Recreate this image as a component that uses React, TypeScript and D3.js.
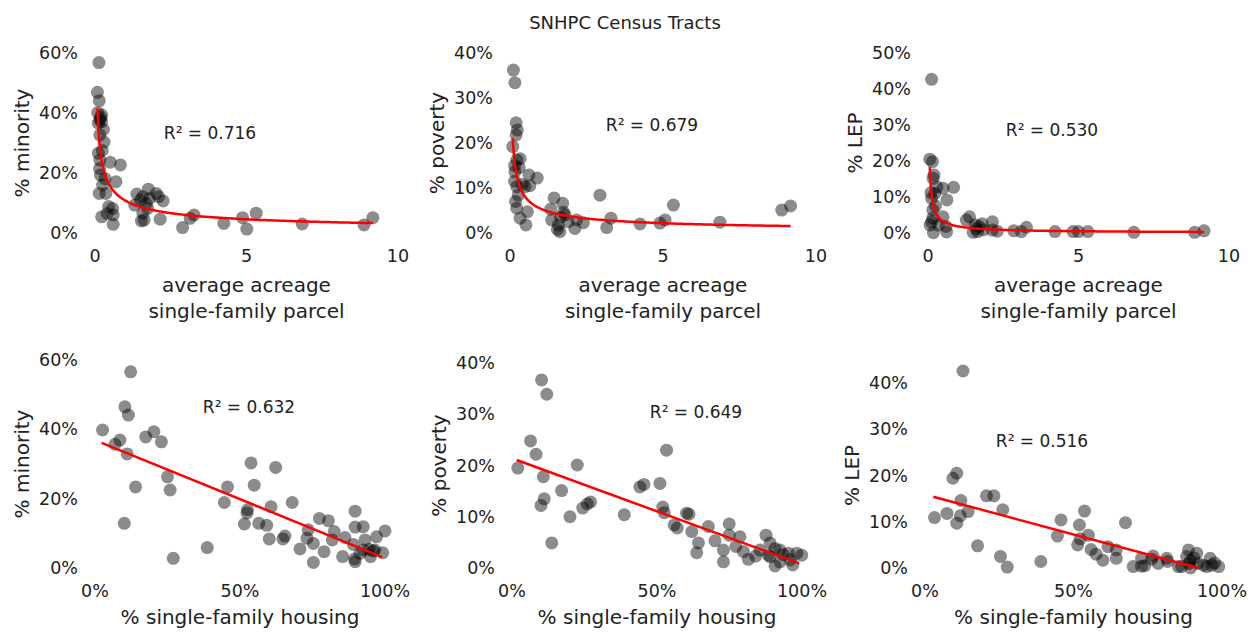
import React from "react";
import * as d3 from "d3";

// ---------- DATA ----------
const chartTitle = "SNHPC Census Tracts";

// Top row: average acreage of single-family parcel
const acreMinorityX = [0.13,0.08,0.14,0.09,0.22,0.16,0.11,0.22,0.19,0.16,0.30,0.11,0.24,0.16,0.50,0.84,0.18,0.33,0.69,0.14,0.36,0.25,0.45,0.58,0.22,0.60,0.60,0.40,1.38,1.58,1.76,2.02,2.10,2.25,1.31,1.69,1.74,1.58,1.53,1.62,2.15,1.50,1.80,2.89,3.14,3.27,4.25,4.87,5.01,5.32,6.84,8.88,9.17,0.28,0.15];
const acreMinorityY = [56.8,46.9,44.1,40.1,39.3,37.7,36.6,37.1,38.5,32.7,30.3,26.6,27.5,24.3,23.6,22.7,19.3,18.1,17.1,13.2,13.2,16.0,8.8,8.2,5.4,6.0,2.9,6.5,13.0,12.1,14.6,13.2,12.1,10.7,9.3,9.9,8.2,6.6,4.0,4.3,4.6,11.0,11.5,1.8,4.9,6.0,3.2,5.1,1.3,6.6,3.0,2.7,5.1,34.5,21.5];

const acrePovertyX = [0.11,0.16,0.20,0.24,0.20,0.09,0.22,0.33,0.15,0.30,0.16,0.62,0.89,0.15,0.22,0.49,0.65,0.40,0.27,0.22,0.57,0.33,0.52,0.18,1.44,1.72,1.33,1.80,1.75,1.36,1.58,1.63,2.18,2.12,2.40,1.55,1.90,2.94,3.16,3.30,4.25,4.90,5.07,5.34,6.86,8.88,9.17,1.65];
const acrePovertyY = [36.2,33.4,24.5,22.9,21.8,19.2,16.2,16.5,15.0,14.5,13.6,12.9,12.2,11.5,10.3,10.3,10.5,10.8,8.4,5.5,4.7,3.3,1.8,7.0,7.8,6.6,5.3,4.0,4.6,2.9,1.8,0.3,2.9,1.0,2.3,0.8,2.5,8.4,1.2,3.3,2.0,2.2,2.9,6.2,2.4,5.1,6.0,3.5];

const acreLepX = [0.12,0.06,0.15,0.20,0.17,0.10,0.23,0.50,0.85,0.63,0.12,0.16,0.50,0.16,0.12,0.07,0.35,0.60,0.18,0.62,0.25,0.30,1.27,1.38,1.57,1.70,1.65,1.50,1.85,2.14,2.14,2.30,1.60,2.85,3.10,3.27,4.22,4.82,5.00,5.31,6.84,8.86,9.17,1.80];
const acreLepY = [42.7,20.5,19.8,16.1,15.2,11.2,11.0,12.4,12.7,9.2,9.6,6.4,4.5,4.2,3.1,2.2,2.2,1.8,0.1,0.3,7.5,12.8,3.6,4.5,2.2,1.8,0.4,0.2,0.9,3.1,0.8,0.5,1.2,0.6,0.4,1.6,0.4,0.4,0.4,0.4,0.2,0.2,0.6,2.6];

// Bottom row: % single-family housing
const sfhMinorityX = [12.3,10.3,11.5,2.6,20.3,17.5,22.9,8.6,6.9,11.1,25,14,25.9,10.1,27,38.7,44.6,45.7,53.8,54.9,62.3,52.4,52.6,51.5,56.5,59.2,60.7,60.1,64.8,65.5,68,70.7,73.1,73.5,75.3,75.3,77.4,80.5,79,82.5,81.8,85.4,86.2,89.1,89.7,89.7,92.5,89.7,89.5,92.5,93.1,95.9,95,97.1,99.2,100,91.4,94.5,96.5];
const sfhMinorityY = [56.6,46.5,44.1,39.8,39.3,37.8,36.4,36.9,35.7,32.9,26.3,23.4,22.5,12.9,2.8,5.9,18.9,23.4,30.3,23.9,29,15.9,16.8,12.7,12.9,12.3,17.7,8.4,8.4,9.2,18.9,5.5,8.6,11,7.1,1.6,14.3,13.6,4.7,10.5,8.1,3.3,8.8,6.8,16.4,11.8,11.9,1.8,2.6,5.2,8.1,4.9,3.3,9,4.4,10.7,4.2,5.4,5.2];

const sfhPovertyX = [10.2,12,6.4,8.3,2,22.5,10.8,17.1,11.1,10,13.7,20,24.4,26,27.1,38.7,44.1,45.5,51,53.3,52,52.5,55.9,57,60.2,61,62,64.3,63.7,67.7,70,72.9,72.9,74.9,74.9,78.6,77.2,79.8,81.5,87.6,89,85.5,88.4,90.7,92.4,92.4,95.3,95.9,96.8,98.2,99.9,90.7,89,84,93.5];
const sfhPovertyY = [36.7,33.9,24.8,22.2,19.5,20.1,17.8,15.1,13.5,12.2,4.9,10,11.7,12.5,12.9,10.4,15.8,16.3,16.5,23,11.9,10.8,8.4,7.8,10.7,10.5,7.1,4.9,3,8.1,5.3,3.5,1.2,8.6,6.4,6.1,4.2,3.2,1.7,6.4,4.9,3.5,2.5,0.4,1.2,3.5,2.9,1.6,0.6,2.9,2.5,3.8,2.2,2.3,2.6];

const sfhLepX = [12.8,9.4,10.7,3.2,7.4,10.7,12.1,11.9,14.5,20.7,23.2,26.2,17.7,25.4,27.7,39,44.6,45.8,52,53.7,51.4,52.2,55,55.9,57.6,59.9,61.6,64.4,64.4,67.5,70.1,72.9,74,72.9,76.3,76.8,78.5,81.4,81.7,85.3,86.4,88.1,88.7,88.9,89.4,91.5,89.4,91.9,93.8,94.9,96,96.6,98.9,97.5,90.5];
const sfhLepY = [42.6,19.4,20.5,10.9,11.8,9.7,14.6,11.3,12.2,15.6,15.6,12.6,4.8,2.5,0.2,1.4,6.9,10.4,9.3,12.3,5,6.3,7.1,4,3,1.7,4.6,3.9,2.1,9.8,0.3,0.4,0.5,2.1,1.9,2.6,1,2.1,1.4,0.3,0.3,2.5,3.9,1,1.6,3.2,0,1,0.6,0.3,2.1,0.6,0.3,1.1,2.2];

// Trendlines
const powerA = [10.8, 5.41, 1.84];
const powerB = [-0.534, -0.565, -0.818];
const powerRange = [[0.08, 9.17], [0.09, 9.17], [0.06, 9.17]];
const linIntercept = [36.9, 21.4, 15.9];
const linSlope = [-0.341, -0.207, -0.173];
const linRange = [[2.3, 99], [1.6, 99], [2.8, 92]];
const r2Labels = ["0.716", "0.679", "0.530", "0.632", "0.649", "0.516"];

const yTitles = ["% minority", "% poverty", "% LEP"];
const yMaxTop = [60, 40, 50];
const yMaxBottom = [60, 40, 40];
const yTickStep = [20, 10, 10];
const xTicksTop = [0, 5, 10];
const xTicksBottom = [0, 50, 100];
const xTitleTop = ["average acreage", "single-family parcel"];
const xTitleBottom = "% single-family housing";

// ---------- LAYOUT ----------
const FONT = "'DejaVu Sans', sans-serif";
const W = 1250, H = 633;

const topX = [[95, 398], [510, 816], [928, 1229]];
const botX = [[95, 385], [512, 802], [925, 1222]];
const topY = [233, 53];
const botYTop = [360, 363, 383];
const botY0 = 568;
const r2Pos = [[210, 133], [652, 125], [1052, 130], [249, 407], [696, 412], [1042, 441]];

type Panel = {
  xs: number[]; ys: number[];
  x: d3.ScaleLinear<number, number>; y: d3.ScaleLinear<number, number>;
  xTicks: number[]; xFmt: (v: number) => string; yTicks: number[];
  trend: [number, number][];
  yTitle: string; r2: string; r2p: number[]; row: number;
};

function buildPanels(): Panel[] {
  const tops = [[acreMinorityX, acreMinorityY], [acrePovertyX, acrePovertyY], [acreLepX, acreLepY]];
  const bots = [[sfhMinorityX, sfhMinorityY], [sfhPovertyX, sfhPovertyY], [sfhLepX, sfhLepY]];
  const panels: Panel[] = [];
  tops.forEach(([xs, ys], i) => {
    const x = d3.scaleLinear().domain([0, 10]).range(topX[i]);
    const y = d3.scaleLinear().domain([0, yMaxTop[i]]).range(topY);
    const [lo, hi] = powerRange[i];
    const trend: [number, number][] = d3.range(0, 301).map((k) => {
      const xv = lo * Math.pow(hi / lo, k / 300);
      return [xv, powerA[i] * Math.pow(xv, powerB[i])];
    });
    panels.push({ xs, ys, x, y, xTicks: xTicksTop, xFmt: (v) => String(v),
      yTicks: d3.range(0, yMaxTop[i] + 0.01, yTickStep[i]), trend,
      yTitle: yTitles[i], r2: r2Labels[i], r2p: r2Pos[i], row: 0 });
  });
  bots.forEach(([xs, ys], i) => {
    const x = d3.scaleLinear().domain([0, 100]).range(botX[i]);
    const y = d3.scaleLinear().domain([0, yMaxBottom[i]]).range([botY0, botYTop[i]]);
    const [lo, hi] = linRange[i];
    const trend: [number, number][] = [lo, hi].map((xv) => [xv, linIntercept[i] + linSlope[i] * xv]);
    panels.push({ xs, ys, x, y, xTicks: xTicksBottom, xFmt: (v) => v + "%",
      yTicks: d3.range(0, yMaxBottom[i] + 0.01, yTickStep[i]), trend,
      yTitle: yTitles[i], r2: r2Labels[i + 3], r2p: r2Pos[i + 3], row: 1 });
  });
  return panels;
}

export default function App() {
  const panels = buildPanels();
  return (
    <svg width={W} height={H} style={{ position: "absolute", left: 0, top: 0, background: "#fff" }}
      fontFamily={FONT}>
      <text x={625} y={22} textAnchor="middle" dominantBaseline="central" fontSize={18} fill="#222">{chartTitle}</text>
      {panels.map((p, pi) => {
        const line = d3.line<[number, number]>().x((d) => p.x(d[0])).y((d) => p.y(d[1]));
        const xr = p.x.range();
        const yr = p.y.range();
        const xMid = (xr[0] + xr[1]) / 2;
        const yMid = (yr[0] + yr[1]) / 2;
        const tickY = p.row === 0 ? 256 : 591;
        return (
          <g key={pi}>
            {p.yTicks.map((t) => (
              <text key={"y" + t} x={xr[0] - 17} y={p.y(t)} textAnchor="end" dominantBaseline="central" fontSize={17.5} fill="#222">{t + "%"}</text>
            ))}
            {p.xTicks.map((t) => (
              <text key={"x" + t} x={p.x(t)} y={tickY} textAnchor="middle" dominantBaseline="central" fontSize={17.5} fill="#222">{p.xFmt(t)}</text>
            ))}
            <text transform={`translate(${xr[0] - 73},${yMid}) rotate(-90)`} textAnchor="middle" dominantBaseline="central" fontSize={20} fill="#222">{p.yTitle}</text>
            {p.row === 0 ? (
              <g>
                <text x={xMid} y={285} textAnchor="middle" dominantBaseline="central" fontSize={20} fill="#222">{xTitleTop[0]}</text>
                <text x={xMid} y={311} textAnchor="middle" dominantBaseline="central" fontSize={20} fill="#222">{xTitleTop[1]}</text>
              </g>
            ) : (
              <text x={xMid} y={617} textAnchor="middle" dominantBaseline="central" fontSize={20} fill="#222">{xTitleBottom}</text>
            )}
            {p.xs.map((xv, k) => (
              <circle key={k} cx={p.x(xv)} cy={p.y(p.ys[k])} r={6.5} fill="#000" fillOpacity={0.45} />
            ))}
            <path d={line(p.trend) || ""} fill="none" stroke="#ff0000" strokeWidth={2.5} />
            <text x={p.r2p[0]} y={p.r2p[1]} textAnchor="middle" dominantBaseline="central" fontSize={17} fill="#222">
              R<tspan>²</tspan>{" = " + p.r2}
            </text>
          </g>
        );
      })}
    </svg>
  );
}
